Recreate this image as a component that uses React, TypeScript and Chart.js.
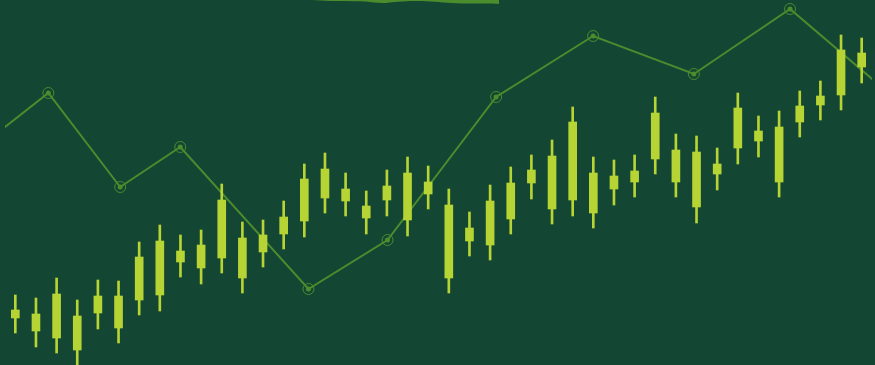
import React, { useEffect, useRef } from "react";
import { Chart, registerables } from "chart.js";

Chart.register(...registerables);

// Candles (one per session)
const sessions = Array.from({ length: 42 }, (_, i) => `S${i + 1}`);
const wickLow = [32, 18, 12, -5, 36, 22, 50, 54, 88, 81, 92, 72, 98, 116, 128, 152, 149, 131, 149, 129, 156, 72, 109, 105, 131, 166, 141, 149, 137, 160, 168, 191, 168, 142, 175, 201, 208, 168, 228, 245, 255, 282];
const wickHigh = [70, 67, 87, 65, 85, 84, 123, 140, 130, 135, 181, 143, 145, 164, 201, 212, 192, 174, 195, 208, 199, 176, 153, 180, 198, 210, 225, 258, 208, 205, 210, 268, 231, 229, 217, 272, 249, 254, 274, 284, 330, 327];
const bodyLow = [47, 34, 27, 15, 52, 37, 65, 70, 103, 97, 107, 87, 113, 131, 144, 167, 164, 147, 165, 145, 171, 87, 124, 120, 146, 182, 156, 165, 152, 176, 183, 206, 183, 158, 191, 217, 224, 183, 243, 260, 270, 298];
const bodyHigh = [55, 51, 71, 49, 69, 69, 108, 124, 114, 120, 165, 127, 130, 148, 186, 196, 176, 159, 179, 192, 183, 160, 137, 164, 182, 195, 209, 243, 192, 189, 194, 252, 215, 213, 201, 257, 234, 238, 259, 269, 315, 312];

// Trend line (x in session units)
const trendX = [-1.0, 1.6, 5.08, 7.99, 14.2, 18.03, 23.29, 27.99, 32.87, 37.53, 42.5];
const trendY = [230, 272, 178, 218, 76, 125, 268, 329, 291, 356, 268.5];

// Area at the top edge
const areaX = [14.38, 15.25, 16.71, 17.82, 18.4, 19.13, 20.1, 20.92, 21.79, 22.76, 23.44];
const areaY = [365, 364, 363.7, 362, 363, 364, 363.5, 362.3, 361.5, 361.5, 361];

const BG = "#144634";
const CANDLE = "#b6d434";
const LINE = "#4b8c2d";

export default function App() {
  const ref = useRef<HTMLCanvasElement | null>(null);

  useEffect(() => {
    if (!ref.current) return;
    const trend = trendX.map((x, i) => ({ x, y: trendY[i] }));
    const area = areaX.map((x, i) => ({ x, y: areaY[i] }));
    const chart = new Chart(ref.current, {
      type: "bar",
      data: {
        labels: sessions,
        datasets: [
          {
            type: "bar",
            data: sessions.map((_, i) => [wickLow[i], wickHigh[i]]) as any,
            backgroundColor: CANDLE,
            barThickness: 2,
            grouped: false,
            order: 1,
          } as any,
          {
            type: "bar",
            data: sessions.map((_, i) => [bodyLow[i], bodyHigh[i]]) as any,
            backgroundColor: CANDLE,
            barThickness: 8,
            grouped: false,
            order: 0,
          } as any,
          {
            type: "line",
            xAxisID: "xl",
            data: trend as any,
            borderColor: LINE,
            borderWidth: 2,
            pointRadius: 2.5,
            pointBackgroundColor: LINE,
            pointBorderWidth: 0,
            tension: 0,
            order: 3,
          } as any,
          {
            type: "line",
            xAxisID: "xl",
            data: trend as any,
            showLine: false,
            pointRadius: 5.5,
            pointBackgroundColor: "rgba(0,0,0,0)",
            pointBorderColor: LINE,
            pointBorderWidth: 1,
            order: 2,
          } as any,
          {
            type: "line",
            xAxisID: "xl",
            data: area as any,
            borderWidth: 0,
            pointRadius: 0,
            fill: "end",
            backgroundColor: LINE,
            tension: 0.3,
            order: 4,
          } as any,
        ],
      },
      options: {
        animation: false,
        responsive: false,
        events: [],
        layout: { autoPadding: false, padding: { left: 5, right: 3, top: 0, bottom: 0 } },
        plugins: { legend: { display: false }, tooltip: { enabled: false } },
        scales: {
          x: { type: "category", display: false, offset: true },
          xl: { type: "linear", display: false, offset: false, min: -0.5, max: 41.5 },
          y: { type: "linear", display: false, min: 0, max: 365 },
        },
      },
    });
    return () => chart.destroy();
  }, []);

  return (
    <div style={{ position: "fixed", left: 0, top: 0, width: 875, height: 365, background: BG }}>
      <canvas ref={ref} width={875} height={365} style={{ display: "block" }} />
    </div>
  );
}
